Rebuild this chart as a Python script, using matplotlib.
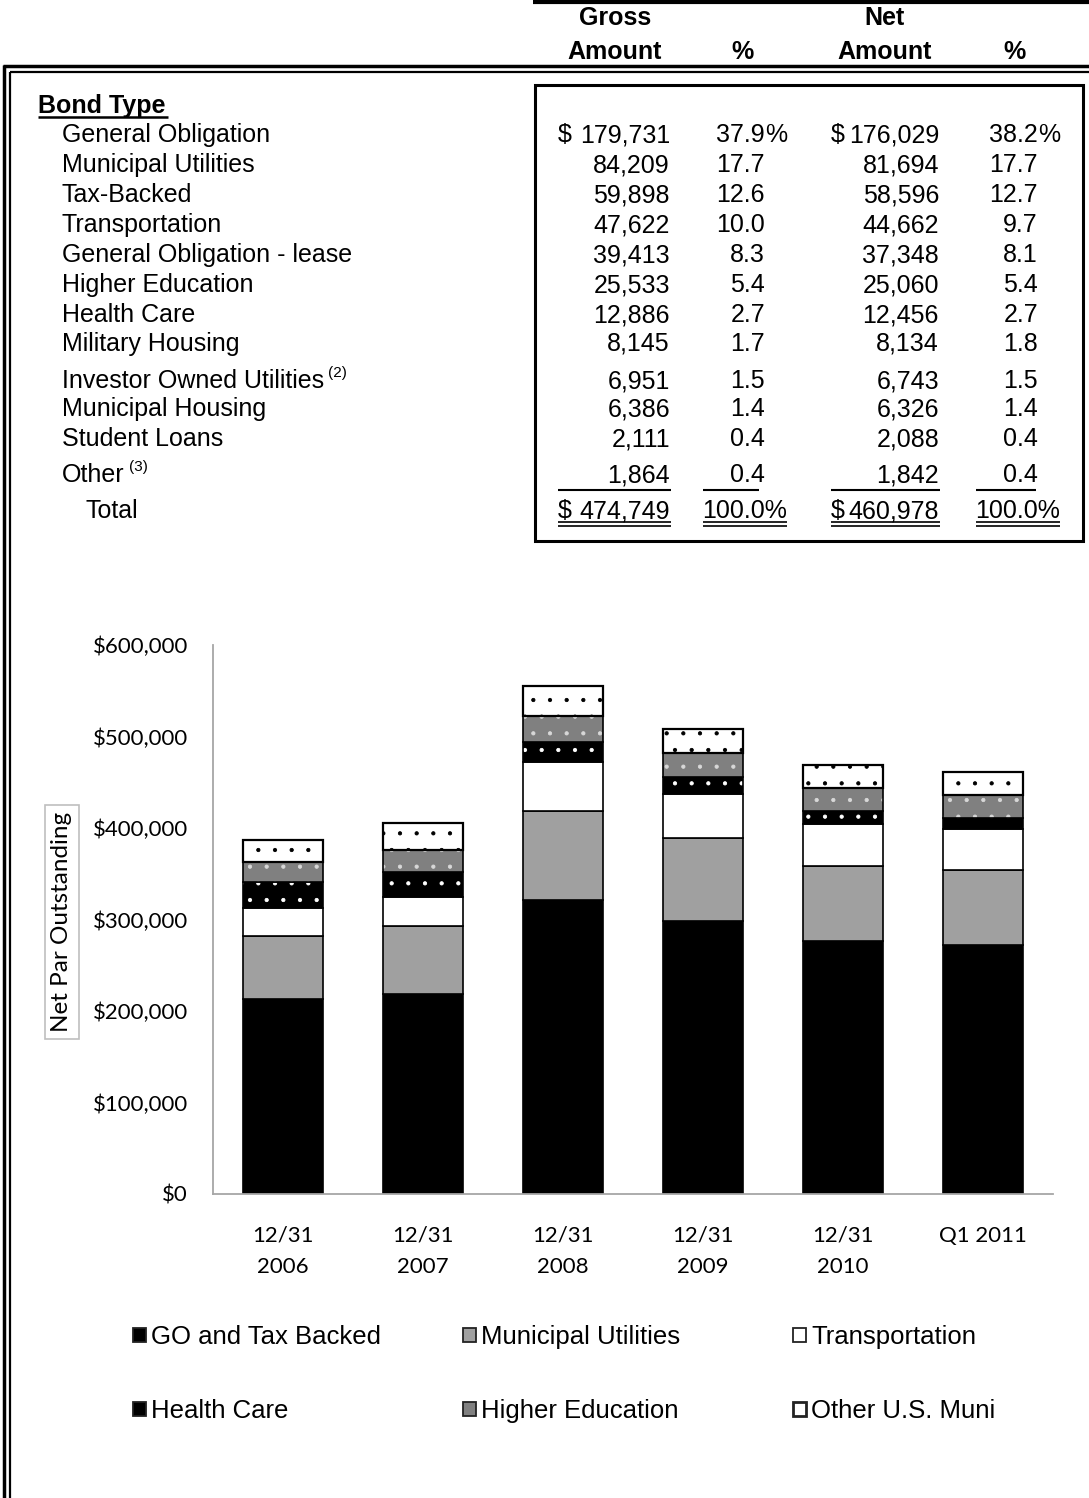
import matplotlib
matplotlib.use("Agg")
import matplotlib.pyplot as plt
from matplotlib.lines import Line2D
from matplotlib.patches import Rectangle, Patch
import numpy as np

W, H = 1089, 1498

# --- table data ---
bond_types = ["General Obligation", "Municipal Utilities", "Tax-Backed", "Transportation",
              "General Obligation - lease", "Higher Education", "Health Care", "Military Housing",
              "Investor Owned Utilities", "Municipal Housing", "Student Loans", "Other"]
footnotes = {8: "(2)", 11: "(3)"}
gross_amt = [179731, 84209, 59898, 47622, 39413, 25533, 12886, 8145, 6951, 6386, 2111, 1864]
gross_pct = [37.9, 17.7, 12.6, 10.0, 8.3, 5.4, 2.7, 1.7, 1.5, 1.4, 0.4, 0.4]
net_amt = [176029, 81694, 58596, 44662, 37348, 25060, 12456, 8134, 6743, 6326, 2088, 1842]
net_pct = [38.2, 17.7, 12.7, 9.7, 8.1, 5.4, 2.7, 1.8, 1.5, 1.4, 0.4, 0.4]
gross_total = 474749
net_total = 460978

# --- chart data (net par, $ thousands) ---
periods = ["12/31\n2006", "12/31\n2007", "12/31\n2008", "12/31\n2009", "12/31\n2010", "Q1 2011"]
go_tax = [213, 219, 321, 298, 276, 272]
muni_util = [69, 74, 98, 91, 82, 82]
transport = [31, 32, 53, 48, 46, 45]
health = [28, 27, 22, 19, 15, 12]
higher_ed = [22, 24, 28, 26, 25, 25]
other_muni = [24, 29, 33, 26, 25, 25]

TF = "Liberation Sans"
CF = "Lato"
FS = 18

plt.rcParams["hatch.linewidth"] = 0.6

fig = plt.figure(figsize=(W / 100, H / 100), dpi=100)
base = fig.add_axes([0, 0, 1, 1])
base.set_xlim(0, W)
base.set_ylim(H, 0)
base.axis("off")


def hline(x0, x1, y, lw):
    base.add_line(Line2D([x0, x1], [y, y], color="black", lw=lw, solid_capstyle="butt"))


def vline(x, y0, y1, lw):
    base.add_line(Line2D([x, x], [y0, y1], color="black", lw=lw, solid_capstyle="butt"))


def txt(x, y, s, ha="left", **kw):
    return base.text(x, y, s, ha=ha, va="center", fontsize=kw.pop("fontsize", FS), family=TF, **kw)


# header
hline(533, W, 1.5, 3)
for x, y, s in [(615, 18, "Gross"), (885, 18, "Net"), (615, 52, "Amount"), (743, 52, "%"),
                (885, 52, "Amount"), (1015, 52, "%")]:
    txt(x, y, s, ha="center", fontweight="bold")

# outer double frame
hline(3, W, 66, 2.5)
hline(9.5, W, 72, 1.6)
vline(4, 65, H, 2.5)
vline(10, 71.5, H, 1.6)

# inner box around numbers
base.add_patch(Rectangle((535, 85), 548, 456, fill=False, lw=2.2, edgecolor="black"))

txt(38, 106, "Bond Type", fontweight="bold")
hline(38, 168, 117, 1.8)

row_y = [135, 165, 195, 225, 255, 285, 315, 344, 381, 409, 439, 475]
fig.canvas.draw()
for i, name in enumerate(bond_types):
    y = row_y[i]
    t = txt(62, y, name)
    if i in footnotes:
        bb = t.get_window_extent(renderer=fig.canvas.get_renderer())
        txt(bb.x1 + 4, y - 8, footnotes[i], fontsize=11)
    txt(670, y, f"{gross_amt[i]:,}", ha="right")
    txt(939, y, f"{net_amt[i]:,}", ha="right")
    txt(765, y, f"{gross_pct[i]:.1f}", ha="right")
    txt(1038, y, f"{net_pct[i]:.1f}", ha="right")
    if i == 0:
        txt(558, y, "$")
        txt(831, y, "$")
        txt(765, y, "%")
        txt(1038, y, "%")

# total row
ty = 511
txt(86, ty, "Total")
txt(558, ty, "$")
txt(670, ty, f"{gross_total:,}", ha="right")
txt(831, ty, "$")
txt(939, ty, f"{net_total:,}", ha="right")
txt(787, ty, "100.0%", ha="right")
txt(1060, ty, "100.0%", ha="right")

# subtotal rules
for x0, x1 in [(558, 671), (703, 759), (831, 940), (976, 1036)]:
    hline(x0, x1, 490, 1.5)
for x0, x1 in [(558, 671), (703, 787), (831, 940), (976, 1060)]:
    hline(x0, x1, 522, 1.2)
    hline(x0, x1, 526, 1.2)

# --- stacked bar chart ---
ax = fig.add_axes([213 / W, 1 - 1194 / H, 840 / W, 549 / H])
x = np.arange(len(periods))
width = 0.57

series = [
    (go_tax, "GO and Tax Backed", "black", None, None),
    (muni_util, "Municipal Utilities", "#a0a0a0", None, None),
    (transport, "Transportation", "white", None, None),
    (health, "Health Care", "black", "white", "."),
    (higher_ed, "Higher Education", "#808080", "#d8d8d8", "."),
    (other_muni, "Other U.S. Muni", "white", "black", "."),
]

bottom = np.zeros(len(periods))
handles = []
for vals, label, face, dot, hatch in series:
    vals = np.array(vals, dtype=float)
    if hatch:
        ax.bar(x, vals, width, bottom=bottom, color=face, edgecolor=dot, hatch=hatch, linewidth=0)
        top_lw = 1.6 if face == "white" else 1.2
    else:
        ax.bar(x, vals, width, bottom=bottom, color=face, linewidth=0)
        top_lw = 1.2
    ax.bar(x, vals, width, bottom=bottom, fill=False, edgecolor="black", linewidth=top_lw)
    bottom += vals
    edge_lw = 2.0 if label == "Other U.S. Muni" else 1.3
    handles.append(Patch(facecolor=face, edgecolor="#222222", linewidth=edge_lw, label=label))

ax.set_xlim(-0.5, len(periods) - 0.5)
ax.set_ylim(0, 600)
ax.set_yticks(np.arange(0, 601, 100))
ax.yaxis.set_major_formatter(plt.FuncFormatter(lambda v, p: f"${v * 1000:,.0f}"))
ax.set_xticks(x)
ax.set_xticklabels(periods, linespacing=1.7)
ax.tick_params(axis="both", length=0, labelsize=16)
ax.tick_params(axis="y", pad=18)
ax.tick_params(axis="x", pad=23)
for lab in ax.get_xticklabels() + ax.get_yticklabels():
    lab.set_family(CF)
for s in ["top", "right"]:
    ax.spines[s].set_visible(False)
for s in ["left", "bottom"]:
    ax.spines[s].set_color("#a6a6a6")
    ax.spines[s].set_linewidth(1.3)

fig.text(62 / W, 1 - 922 / H, "Net Par Outstanding", rotation=90, ha="center", va="center",
         fontsize=17.5, family=CF,
         bbox=dict(boxstyle="square,pad=0.28", facecolor="white", edgecolor="#bfbfbf", lw=1.2))

# legend: three columns of two entries
for col, cx in enumerate([133, 463, 793]):
    hs = [handles[col], handles[col + 3]]
    fig.legend(handles=hs, labels=[h.get_label() for h in hs], loc="upper left",
               bbox_to_anchor=(cx / W, 1 - 1325 / H), frameon=False,
               prop={"family": TF, "size": 18.5}, handlelength=0.5, handleheight=0.5,
               handletextpad=0.2, labelspacing=1.95, borderpad=0, borderaxespad=0)

fig.savefig("out.png", dpi=100)
